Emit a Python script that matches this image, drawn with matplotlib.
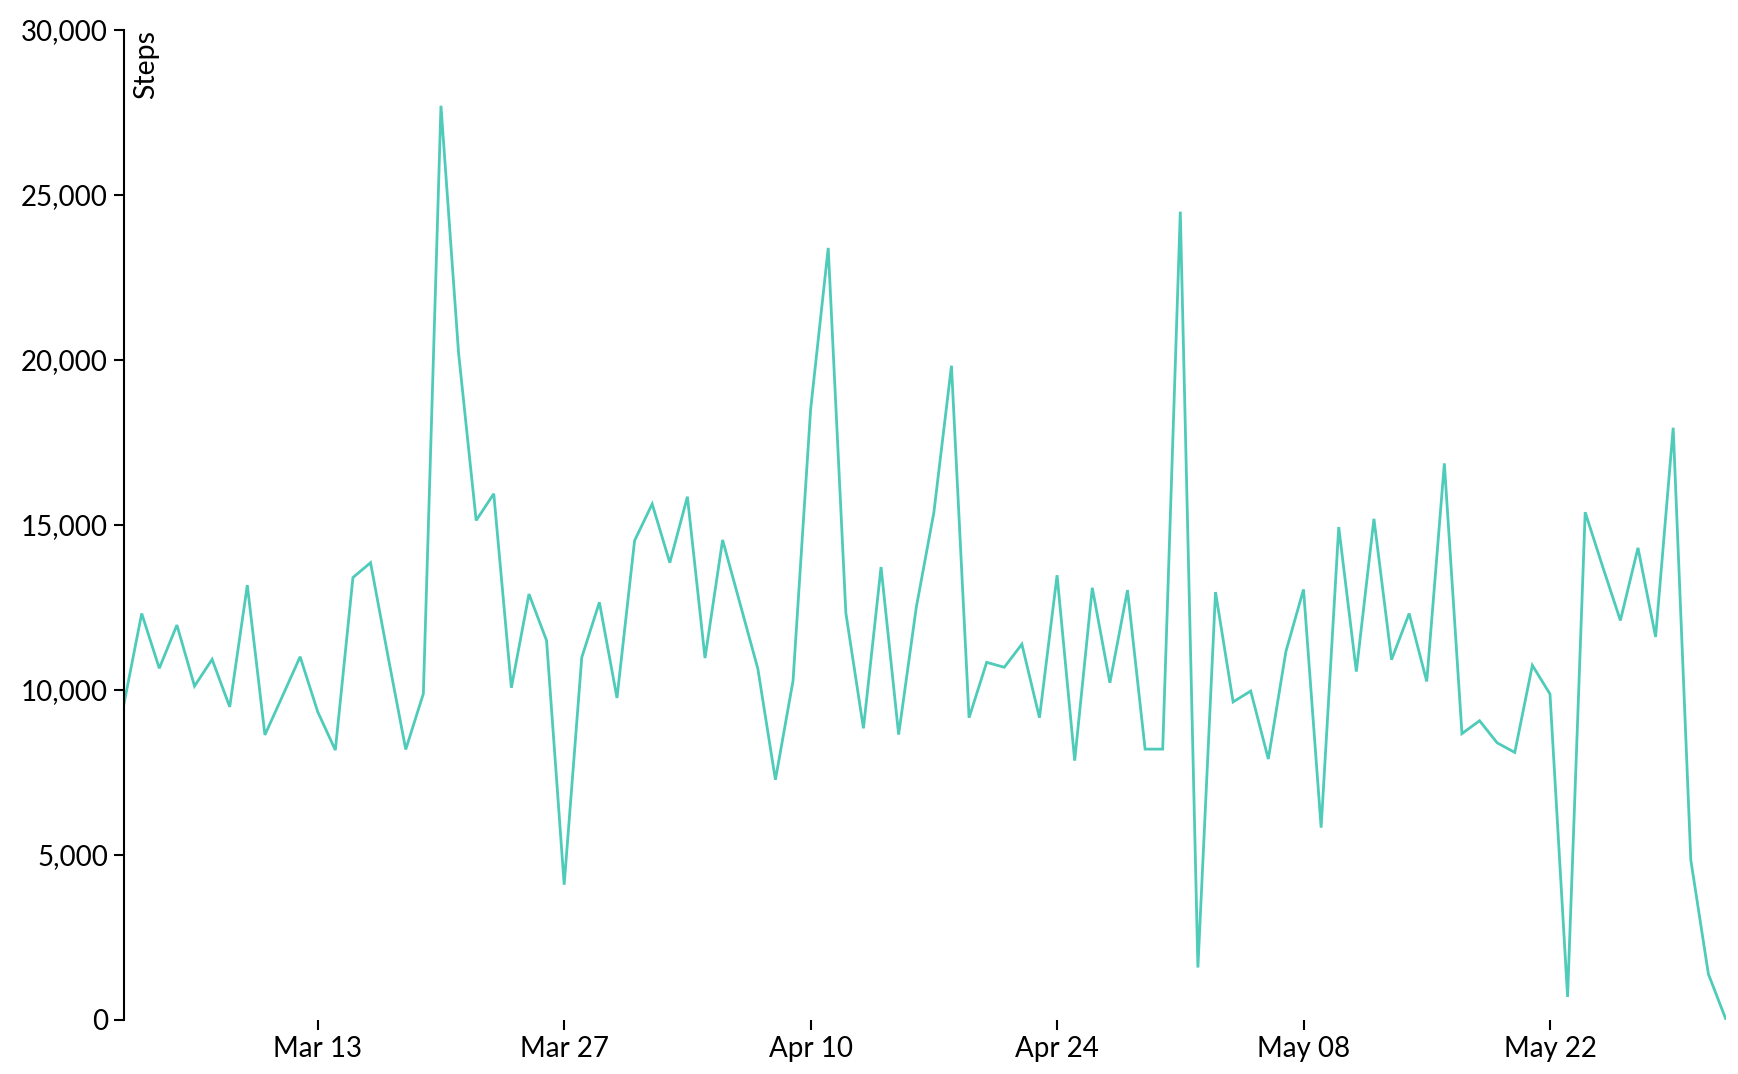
import numpy as np
import pandas as pd
import matplotlib
matplotlib.use('Agg')
import matplotlib.pyplot as plt
import matplotlib.dates as mdates

# daily step counts, Mar 2 - Jun 1
start_date = '2022-03-02'
end_date = '2022-06-01'
steps = [9590, 12310, 10650, 11960, 10110, 10920, 9480, 13170, 8630, 9810,
         11000, 9330, 8170, 13400, 13850, 10990, 8190, 9880, 27700, 20210,
         15130, 15940, 10060, 12900, 11490, 4090, 10980, 12650, 9750, 14520,
         15630, 13850, 15850, 10960, 14540, 12590, 10640, 7270, 10270, 18500,
         23390, 12330, 8830, 13720, 8640, 12490, 15370, 19820, 9150, 10830,
         10680, 11380, 9150, 13470, 7850, 13090, 10210, 13020, 8200, 8200,
         24490, 1580, 12960, 9630, 9960, 7900, 11160, 13040, 5820, 14930,
         10550, 15180, 10910, 12310, 10250, 16860, 8670, 9060, 8390, 8100,
         10740, 9870, 690, 15380, 13720, 12100, 14300, 11600, 17940, 4840,
         1380, 0]
tick_dates = ['2022-03-13', '2022-03-27', '2022-04-10', '2022-04-24', '2022-05-08', '2022-05-22']
y_ticks = [0, 5000, 10000, 15000, 20000, 25000, 30000]
y_label = 'Steps'

dates = pd.date_range(start_date, end_date, freq='D')

plt.rcParams['font.family'] = ['Lato', 'DejaVu Sans']

fig = plt.figure(figsize=(17.38, 10.74), dpi=100)
ax = fig.add_axes([0.0714, 0.0506, 0.9217, 0.9216])
ax.plot(dates, steps, color='#4ecbb9', lw=2.0, solid_joinstyle='miter')

ax.set_xlim(dates[0], dates[-1])
ax.set_ylim(0, 30000)
ax.set_yticks(y_ticks)
ax.set_yticklabels([f'{v:,}' for v in y_ticks])
ax.set_xticks(pd.to_datetime(tick_dates))
ax.xaxis.set_major_formatter(mdates.DateFormatter('%b %d'))

for s in ['top', 'right', 'bottom']:
    ax.spines[s].set_visible(False)
ax.spines['left'].set_linewidth(1.5)
ax.tick_params(axis='both', length=7.5, width=1.5, labelsize=20, color='black', labelcolor='black')
ax.tick_params(axis='y', pad=4)
ax.tick_params(axis='x', pad=4)

ax.text(0.0056, 1.0, y_label, transform=ax.transAxes, rotation=90,
        ha='left', va='top', fontsize=20.5)

fig.savefig('out.png', dpi=100)
